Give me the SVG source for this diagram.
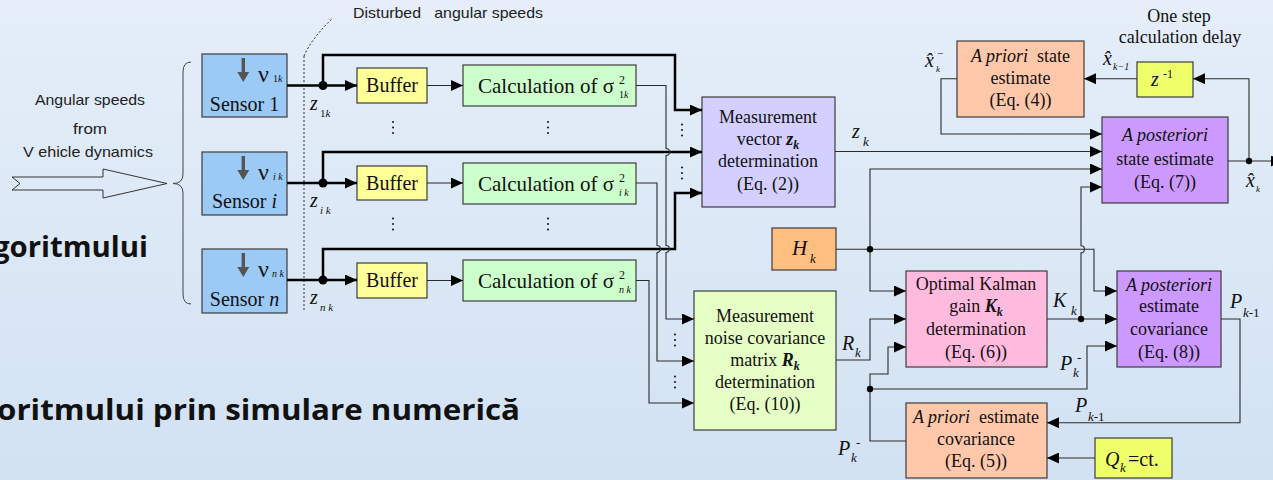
<svg xmlns="http://www.w3.org/2000/svg" width="1273" height="480" viewBox="0 0 1273 480">
<defs>
<linearGradient id="bg" x1="0" y1="0" x2="0" y2="1">
<stop offset="0" stop-color="#e5eef9"/>
<stop offset="1" stop-color="#d2e2f3"/>
</linearGradient>
<marker id="ah" markerUnits="userSpaceOnUse" markerWidth="13" markerHeight="11" refX="12" refY="5.5" orient="auto">
<path d="M0,0 L12,5.5 L0,11 z" fill="#000"/>
</marker>
<symbol id="vd" overflow="visible">
<circle cx="0" cy="-5.5" r="1.1" fill="#222"/>
<circle cx="0" cy="0" r="1.1" fill="#222"/>
<circle cx="0" cy="5.5" r="1.1" fill="#222"/>
</symbol>
<style>
.box{stroke:#3c3c3c;stroke-width:1.2}
.t{font-family:"Liberation Serif","Times New Roman",serif;fill:#111}
.i{font-style:italic}
.bi{font-style:italic;font-weight:bold}
.s{font-family:"Liberation Sans",Arial,sans-serif;fill:#222}
.c{text-anchor:middle}
.thin{fill:none;stroke:#2a2a2a;stroke-width:1.1}
.thick{fill:none;stroke:#000;stroke-width:2.5}
.arr{marker-end:url(#ah)}
.big{font-family:"Open Sans","Liberation Sans",sans-serif;font-weight:bold;fill:#111}
</style>
</defs>
<rect x="0" y="0" width="1273" height="480" fill="url(#bg)"/>

<!-- background slide text -->
<text class="big" x="-7" y="257" font-size="28" textLength="155" lengthAdjust="spacingAndGlyphs">goritmului</text>
<text class="big" x="-3" y="420" font-size="28" textLength="523" lengthAdjust="spacingAndGlyphs">oritmului prin simulare numerică</text>

<!-- input annotation -->
<g id="input">
<text class="s" x="35" y="105" font-size="14.5" textLength="110" lengthAdjust="spacingAndGlyphs">Angular speeds</text>
<text class="s" x="73" y="134" font-size="14.5" textLength="34" lengthAdjust="spacingAndGlyphs">from</text>
<text class="s" x="23" y="157" font-size="14.5" textLength="130" lengthAdjust="spacingAndGlyphs">V ehicle dynamics</text>
<polygon points="12,177 103,177 103,169 167,183.5 103,198 103,190 12,190 20,183.5" fill="none" stroke="#333" stroke-width="1"/>
<path d="M191,62 Q183,62 183,72 L183,174 Q183,183.5 173,183.5 Q183,183.5 183,193 L183,294 Q183,304 191,304" fill="none" stroke="#444" stroke-width="1"/>
</g>

<g id="disturbance">
<path d="M304,56 C309,44 320,30 333,18" fill="none" stroke="#333" stroke-width="1" stroke-dasharray="2,2"/>
<line x1="304" y1="56" x2="304" y2="312" stroke="#333" stroke-width="1" stroke-dasharray="2,2"/>
<text class="s" x="353" y="18" font-size="14.5" textLength="190" lengthAdjust="spacingAndGlyphs" xml:space="preserve">Disturbed   angular speeds</text>
</g>

<!-- sensors -->
<g id="sensor1">
<rect class="box" x="202" y="54" width="85" height="63" fill="#9ccaf6"/>
<path d="M241.6,58 h3.4 v14 h4.3 l-6,10 l-6,-10 h4.3 z" fill="#555"/>
<text class="t" x="258" y="82" font-size="24">ν</text>
<text class="t" x="273" y="82" font-size="10">1<tspan class="i">k</tspan></text>
<text class="t c" x="244.5" y="111" font-size="20">Sensor 1</text>
</g>
<g id="sensori">
<rect class="box" x="202" y="152" width="85" height="63" fill="#9ccaf6"/>
<path d="M241.6,156 h3.4 v14 h4.3 l-6,10 l-6,-10 h4.3 z" fill="#555"/>
<text class="t" x="258" y="180" font-size="24">ν</text>
<text class="t i" x="273" y="180" font-size="10">i k</text>
<text class="t c" x="244.5" y="208" font-size="20">Sensor <tspan class="i">i</tspan></text>
</g>
<g id="sensorn">
<rect class="box" x="202" y="249" width="85" height="64" fill="#9ccaf6"/>
<path d="M241.6,253 h3.4 v14 h4.3 l-6,10 l-6,-10 h4.3 z" fill="#555"/>
<text class="t" x="258" y="277" font-size="24">ν</text>
<text class="t i" x="272" y="277" font-size="10">n k</text>
<text class="t c" x="244.5" y="306" font-size="20">Sensor <tspan class="i">n</tspan></text>
</g>

<!-- buffers -->
<g id="buffer1"><rect class="box" x="357" y="68" width="70" height="35" fill="#ffff99"/><text class="t c" x="392" y="92" font-size="20">Buffer</text></g>
<g id="bufferi"><rect class="box" x="357" y="166" width="70" height="34" fill="#ffff99"/><text class="t c" x="392" y="190" font-size="20">Buffer</text></g>
<g id="buffern"><rect class="box" x="357" y="263" width="70" height="35" fill="#ffff99"/><text class="t c" x="392" y="287" font-size="20">Buffer</text></g>

<!-- calculations -->
<g id="calc1">
<rect class="box" x="463" y="65" width="173" height="41" fill="#ccffcc"/>
<text class="t" x="478" y="93" font-size="21">Calculation of σ</text>
<text class="t" x="619" y="84" font-size="12">2</text>
<text class="t" x="619" y="98" font-size="10">1<tspan class="i">k</tspan></text>
</g>
<g id="calci">
<rect class="box" x="463" y="163" width="173" height="41" fill="#ccffcc"/>
<text class="t" x="478" y="191" font-size="21">Calculation of σ</text>
<text class="t" x="619" y="182" font-size="12">2</text>
<text class="t i" x="619" y="196" font-size="10">i k</text>
</g>
<g id="calcn">
<rect class="box" x="463" y="260" width="173" height="41" fill="#ccffcc"/>
<text class="t" x="478" y="288" font-size="21">Calculation of σ</text>
<text class="t" x="619" y="279" font-size="12">2</text>
<text class="t i" x="619" y="293" font-size="10">n k</text>
</g>

<!-- measurement vector -->
<g id="vector">
<rect class="box" x="702" y="97" width="133" height="110" fill="#d3d0ff"/>
<text class="t c" x="768" y="123" font-size="18">Measurement</text>
<text class="t c" x="768" y="145" font-size="18">vector <tspan class="bi">z</tspan><tspan class="bi" font-size="12" dy="4">k</tspan></text>
<text class="t c" x="768" y="167" font-size="18">determination</text>
<text class="t c" x="768" y="190" font-size="18">(Eq. (2))</text>
</g>

<!-- noise covariance -->
<g id="noisecov">
<rect class="box" x="694" y="291" width="142" height="139" fill="#e6ffc6"/>
<text class="t c" x="765" y="322" font-size="18">Measurement</text>
<text class="t c" x="765" y="344" font-size="18">noise covariance</text>
<text class="t c" x="765" y="366" font-size="18">matrix <tspan class="bi">R</tspan><tspan class="bi" font-size="12" dy="4">k</tspan></text>
<text class="t c" x="765" y="388" font-size="18">determination</text>
<text class="t c" x="765" y="410" font-size="18">(Eq. (10))</text>
</g>

<!-- H_k -->
<g id="hk">
<rect class="box" x="772" y="228" width="64" height="42" fill="#ffbf80"/>
<text class="t i" x="792" y="255" font-size="21">H</text>
<text class="t i" x="810" y="263" font-size="13">k</text>
</g>

<!-- a priori state -->
<g id="aprioristate">
<rect class="box" x="957" y="41" width="127" height="76" fill="#ffc8aa"/>
<text class="t c" x="1020.5" y="62" font-size="18" xml:space="preserve"><tspan class="i">A priori</tspan>  state</text>
<text class="t c" x="1020.5" y="84" font-size="18">estimate</text>
<text class="t c" x="1020.5" y="106" font-size="18">(Eq. (4))</text>
</g>

<!-- delay -->
<g id="delay">
<rect class="box" x="1137" y="62" width="56" height="35" fill="#eeff6a"/>
<text class="t i" x="1151" y="86" font-size="20">z</text>
<text class="t" x="1163" y="78" font-size="12">-1</text>
<text class="t c" x="1179" y="22" font-size="18">One step</text>
<text class="t c" x="1180" y="43" font-size="18">calculation delay</text>
</g>

<!-- a posteriori state -->
<g id="aposterioristate">
<rect class="box" x="1102" y="117" width="126" height="86" fill="#cc9aff"/>
<text class="t c i" x="1165" y="141" font-size="18">A posteriori</text>
<text class="t c" x="1165" y="165" font-size="18">state estimate</text>
<text class="t c" x="1165" y="188" font-size="18">(Eq. (7))</text>
</g>

<!-- Kalman gain -->
<g id="kalman">
<rect class="box" x="906" y="271" width="141" height="96" fill="#ffbbde"/>
<text class="t c" x="976" y="290" font-size="18">Optimal Kalman</text>
<text class="t c" x="976" y="312" font-size="18">gain <tspan class="bi">K</tspan><tspan class="bi" font-size="12" dy="4">k</tspan></text>
<text class="t c" x="976" y="335" font-size="18">determination</text>
<text class="t c" x="976" y="358" font-size="18">(Eq. (6))</text>
</g>

<!-- a posteriori covariance -->
<g id="aposterioricov">
<rect class="box" x="1117" y="271" width="104" height="96" fill="#cc9aff"/>
<text class="t c i" x="1169" y="291" font-size="18">A posteriori</text>
<text class="t c" x="1169" y="312" font-size="18">estimate</text>
<text class="t c" x="1169" y="335" font-size="18">covariance</text>
<text class="t c" x="1169" y="358" font-size="18">(Eq. (8))</text>
</g>

<!-- a priori covariance -->
<g id="aprioricov">
<rect class="box" x="906" y="403" width="141" height="75" fill="#ffc8aa"/>
<text class="t c" x="976" y="423" font-size="18" xml:space="preserve"><tspan class="i">A priori</tspan>  estimate</text>
<text class="t c" x="976" y="445" font-size="18">covariance</text>
<text class="t c" x="976" y="467" font-size="18">(Eq. (5))</text>
</g>

<!-- Q_k -->
<g id="qk">
<rect class="box" x="1095" y="438" width="77" height="40" fill="#eeff6a"/>
<text class="t i" x="1105" y="466" font-size="20">Q</text>
<text class="t i" x="1120" y="472" font-size="13">k</text>
<text class="t" x="1128" y="466" font-size="20">=ct.</text>
</g>

<!-- connectors -->
<g id="connectors">
<path class="thick arr" d="M287,85.5 H357"/>
<path class="thick arr" d="M287,183 H357"/>
<path class="thick arr" d="M287,280 H357"/>
<path class="thick arr" d="M323,85.5 V55 H675 V110 H702"/>
<path class="thick arr" d="M323,183 V152 H702"/>
<path class="thick arr" d="M323,280 V249 H675 V193 H702"/>
<circle cx="323" cy="85.5" r="4.5" fill="#000"/>
<circle cx="323" cy="183" r="4.5" fill="#000"/>
<circle cx="323" cy="280" r="4.5" fill="#000"/>

<path class="thin arr" d="M427,85.5 H463"/>
<path class="thin arr" d="M427,183 H463"/>
<path class="thin arr" d="M427,280.5 H463"/>

<path class="thin arr" d="M636,85.5 H666 V148.5 A3.5,3.5 0 0 1 666,155.5 V245.5 A3.5,3.5 0 0 1 666,252.5 V319 H694"/>
<path class="thin arr" d="M636,183 H657 V245.5 A3.5,3.5 0 0 1 657,252.5 V361 H694"/>
<path class="thin arr" d="M636,280.5 H649 V403 H694"/>

<path class="thin arr" d="M835,151.5 H1102"/>
<path class="thin arr" d="M957,78.7 H941 V134 H1102"/>
<path class="thin arr" d="M1137,78.7 H1084"/>
<path class="thin arr" d="M1228,161 H1283"/>
<path class="thin arr" d="M1249,161 V78.7 H1193"/>
<circle cx="1249" cy="161" r="3.2" fill="#000"/>

<path class="thin arr" d="M836,249.3 H1094 V291 H1117"/>
<path class="thin arr" d="M870,249.3 V169 H1102"/>
<path class="thin arr" d="M870,249.3 V291 H906"/>
<circle cx="870" cy="249.3" r="3.2" fill="#000"/>
<path class="thin arr" d="M836,360 H870 V319 H906"/>

<path class="thin arr" d="M1047,319 H1117"/>
<path class="thin arr" d="M1081,319 V252.8 A3.5,3.5 0 0 0 1081,245.8 V187 H1102"/>
<circle cx="1081" cy="319" r="3.2" fill="#000"/>

<path class="thin arr" d="M906,441 H870 V374 H888 V347 H906"/>
<path class="thin arr" d="M870,389 H1087 V346 H1117"/>
<circle cx="870" cy="389" r="3.2" fill="#000"/>

<path class="thin arr" d="M1221,319 H1240 V422.7 H1047"/>
<path class="thin arr" d="M1095,458 H1047"/>

<use href="#vd" x="393" y="127.5"/>
<use href="#vd" x="548" y="127.5"/>
<use href="#vd" x="393" y="224"/>
<use href="#vd" x="548" y="224"/>
<use href="#vd" x="682" y="130"/>
<use href="#vd" x="682" y="173"/>
<use href="#vd" x="675" y="340"/>
<use href="#vd" x="675" y="382"/>
</g>

<!-- connector labels -->
<g id="labels">
<text class="t i" x="310" y="110" font-size="20">z</text>
<text class="t" x="320" y="117" font-size="11">1<tspan class="i">k</tspan></text>
<text class="t i" x="310" y="207" font-size="20">z</text>
<text class="t i" x="320" y="214" font-size="11">i k</text>
<text class="t i" x="310" y="304" font-size="20">z</text>
<text class="t i" x="320" y="311" font-size="11">n k</text>

<text class="t i" x="852" y="138" font-size="20">z</text>
<text class="t i" x="863" y="146" font-size="13">k</text>

<text class="t i" x="925" y="67" font-size="20">x̂</text>
<text class="t i" x="936" y="72" font-size="9">k</text>
<text class="t" x="937" y="57" font-size="11">−</text>

<text class="t i" x="1103" y="65" font-size="20">x̂</text>
<text class="t i" x="1113" y="70" font-size="10">k<tspan class="t">−1</tspan></text>

<text class="t i" x="1246" y="187" font-size="20">x̂</text>
<text class="t i" x="1256" y="192" font-size="9">k</text>

<text class="t i" x="842" y="350" font-size="20">R</text>
<text class="t i" x="855" y="357" font-size="13">k</text>

<text class="t i" x="1053" y="307" font-size="20">K</text>
<text class="t i" x="1071" y="315" font-size="13">k</text>

<text class="t i" x="1230" y="308" font-size="20">P</text>
<text class="t" x="1243" y="317" font-size="13"><tspan class="i">k</tspan>-1</text>

<text class="t i" x="1060" y="370" font-size="20">P</text>
<text class="t" x="1077" y="362" font-size="13">-</text>
<text class="t i" x="1073" y="377" font-size="13">k</text>

<text class="t i" x="1075" y="412" font-size="20">P</text>
<text class="t" x="1088" y="421" font-size="13"><tspan class="i">k</tspan>-1</text>

<text class="t i" x="838" y="455" font-size="20">P</text>
<text class="t" x="856" y="447" font-size="13">-</text>
<text class="t i" x="851" y="462" font-size="13">k</text>
</g>
</svg>
